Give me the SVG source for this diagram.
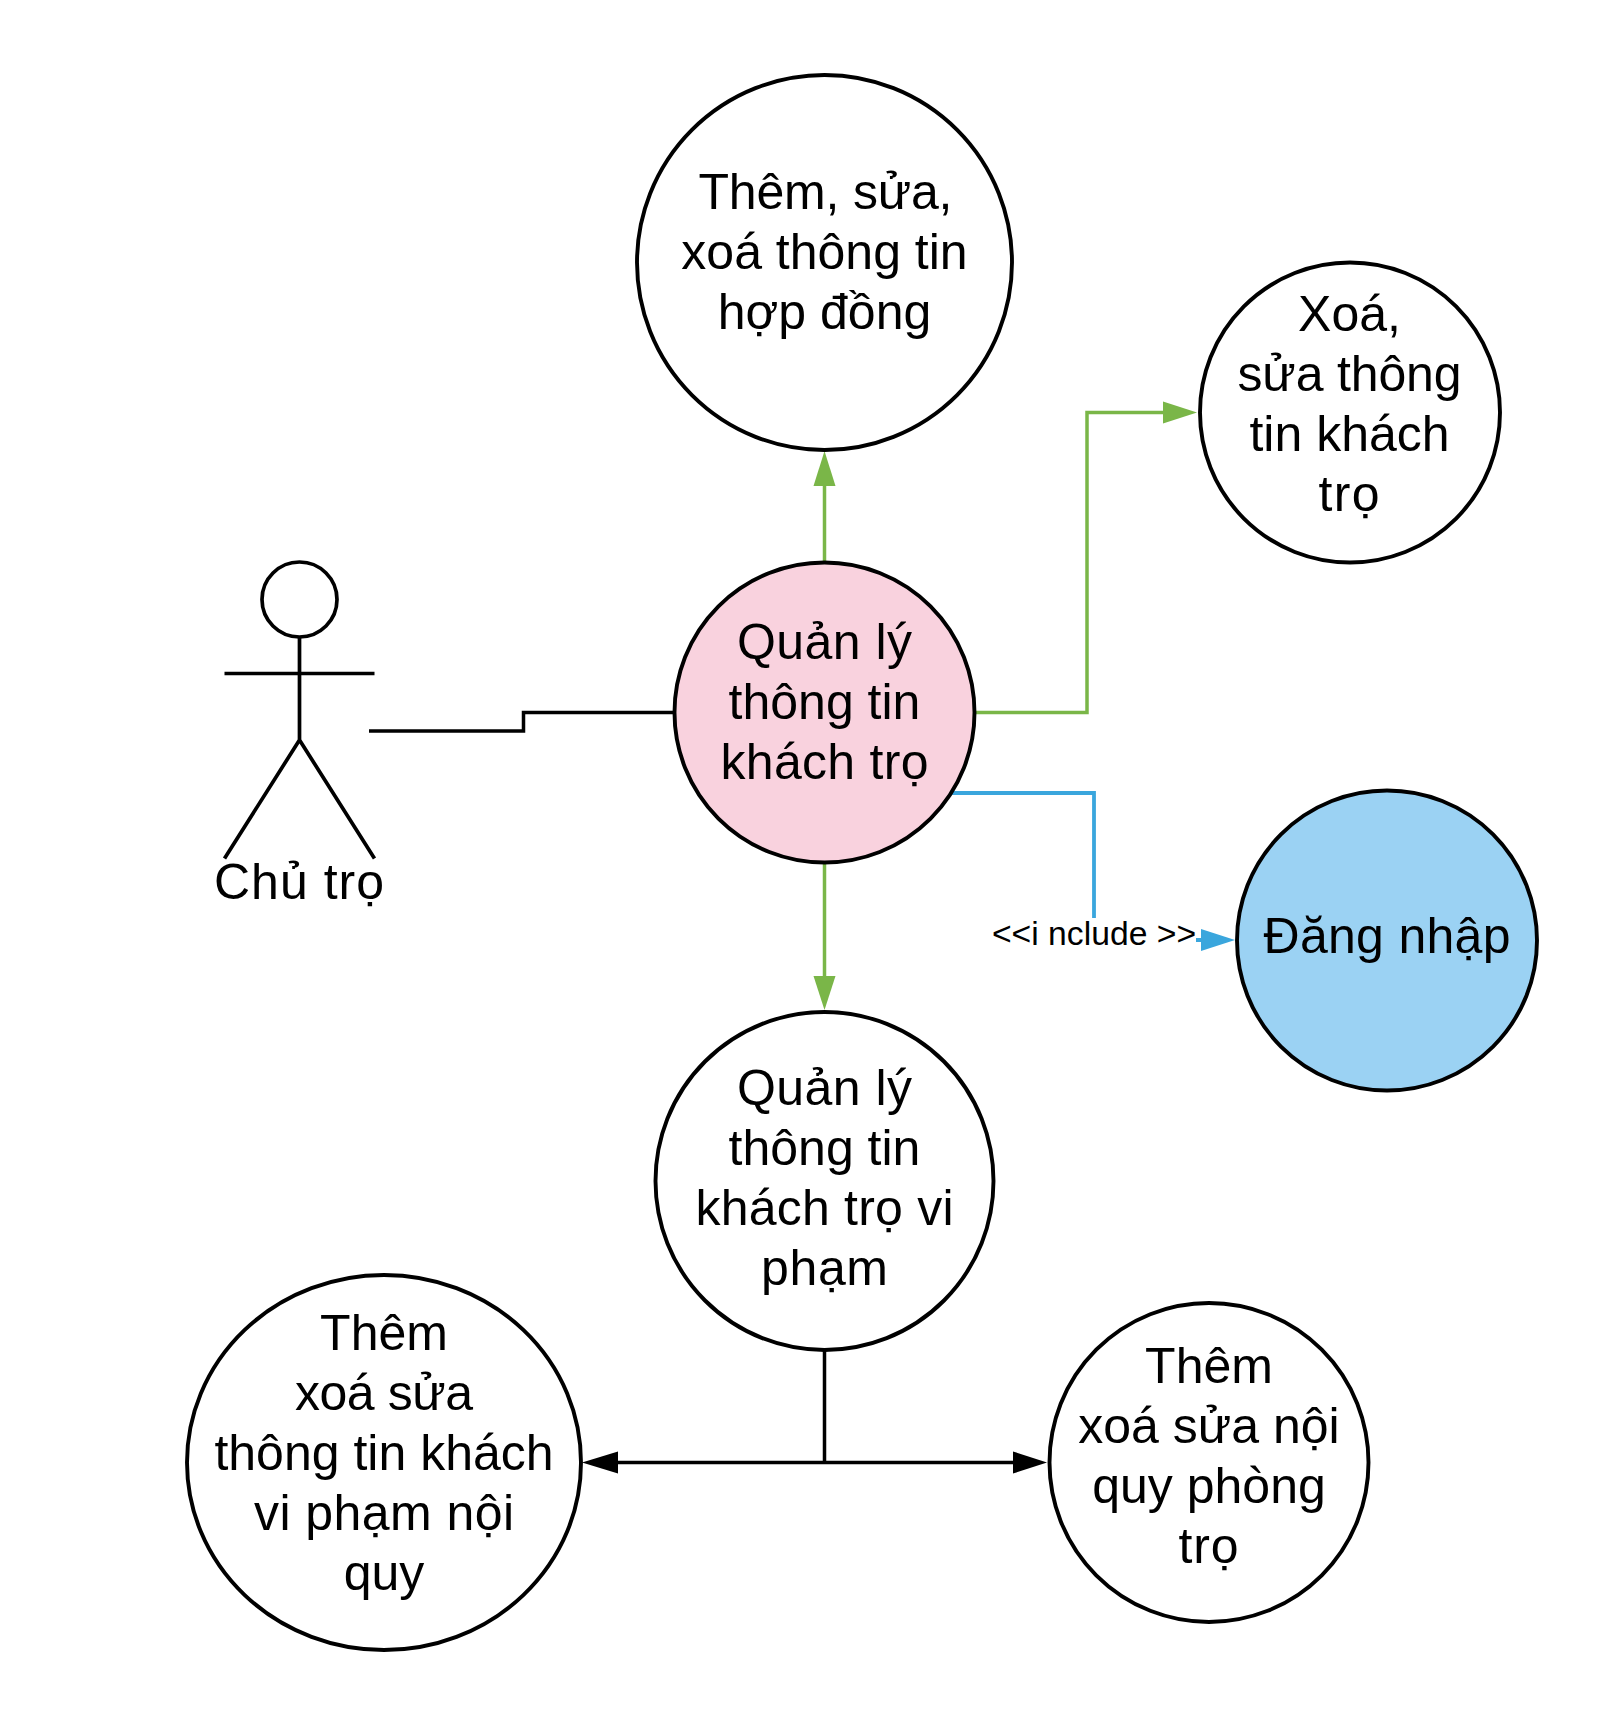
<svg xmlns="http://www.w3.org/2000/svg" width="1613" height="1725" viewBox="0 0 1613 1725">
<style>
text{font-family:"Liberation Sans",Arial,sans-serif;font-size:50px;fill:#000;text-anchor:middle}
.n{stroke:#000;stroke-width:3.9;fill:#fff}
.c{fill:none;stroke-width:3.5}
.a{stroke:#000;stroke-width:3.7;fill:none}
</style>
<rect width="1613" height="1725" fill="#fff"/>
<g id="connectors">
<path class="c" stroke="#000" d="M369 731H523.5V712.5H674"/>
<path class="c" stroke="#7ab648" d="M824.5 562V486"/>
<polygon fill="#7ab648" points="824.5,451 835.5,486 813.5,486"/>
<path class="c" stroke="#7ab648" d="M975 712.5H1087V412.5H1163"/>
<polygon fill="#7ab648" points="1197,412.5 1163,401.5 1163,423.5"/>
<path class="c" stroke="#7ab648" d="M824.5 862V976"/>
<polygon fill="#7ab648" points="824.5,1010 835.5,976 813.5,976"/>
<path class="c" stroke="#3aa6dd" style="stroke-width:3.8" d="M952 793H1094V940H1201"/>
<polygon fill="#3aa6dd" points="1235,940 1201,929 1201,951"/>
<rect x="990" y="918" width="206" height="44" fill="#fff"/>
<text x="1094" y="945" style="font-size:33.7px">&lt;&lt;i nclude &gt;&gt;</text>
<path class="c" stroke="#000" d="M824.5 1350V1462.5M618 1462.5H1013"/>
<polygon fill="#000" points="582,1462.5 618,1451.5 618,1473.5"/>
<polygon fill="#000" points="1047,1462.5 1013,1451.5 1013,1473.5"/>
</g>
<g id="actor">
<circle class="a" cx="299.5" cy="599.5" r="37.5"/>
<path class="a" d="M299.5 637V740M224.5 673.5H374.5M224.5 858.5L299.5 740L374.5 858.5"/>
<text x="299" y="899" textLength="170">Chủ trọ</text>
</g>
<g id="n-hopdong">
<circle class="n" cx="824.5" cy="262.5" r="187.5"/>
<text x="825.5" y="209" textLength="254">Thêm, sửa,</text>
<text x="824.5" y="269">xoá thông tin</text>
<text x="824.5" y="329">hợp đồng</text>
</g>
<g id="n-xoasua">
<circle class="n" cx="1350" cy="412.5" r="150"/>
<text x="1349.5" y="331">Xoá,</text>
<text x="1349.5" y="391" textLength="224">sửa thông</text>
<text x="1349.5" y="451">tin khách</text>
<text x="1349" y="511" textLength="61">trọ</text>
</g>
<g id="n-quanly">
<circle class="n" style="fill:#f9d2de" cx="824.5" cy="712.5" r="150"/>
<text x="824.5" y="659" textLength="175">Quản lý</text>
<text x="824.5" y="719">thông tin</text>
<text x="824.5" y="779" textLength="208">khách trọ</text>
</g>
<g id="n-dangnhap">
<circle class="n" style="fill:#9bd2f3" cx="1387" cy="940.5" r="150"/>
<text x="1387" y="953" textLength="247">Đăng nhập</text>
</g>
<g id="n-vipham">
<circle class="n" cx="824.5" cy="1181" r="169"/>
<text x="824.5" y="1105" textLength="175">Quản lý</text>
<text x="824.5" y="1165">thông tin</text>
<text x="824.5" y="1225" textLength="258">khách trọ vi</text>
<text x="824.5" y="1285" textLength="127">phạm</text>
</g>
<g id="n-themkhach">
<ellipse class="n" cx="384" cy="1462.5" rx="197" ry="187.5"/>
<text x="384" y="1350">Thêm</text>
<text x="384" y="1410" textLength="178">xoá sửa</text>
<text x="384" y="1470">thông tin khách</text>
<text x="384" y="1530" textLength="260">vi phạm nội</text>
<text x="384" y="1590">quy</text>
</g>
<g id="n-themnoiquy">
<circle class="n" cx="1209" cy="1462.5" r="159.5"/>
<text x="1209" y="1383">Thêm</text>
<text x="1209" y="1443">xoá sửa nội</text>
<text x="1209" y="1503">quy phòng</text>
<text x="1208.5" y="1563" textLength="60">trọ</text>
</g>
</svg>
